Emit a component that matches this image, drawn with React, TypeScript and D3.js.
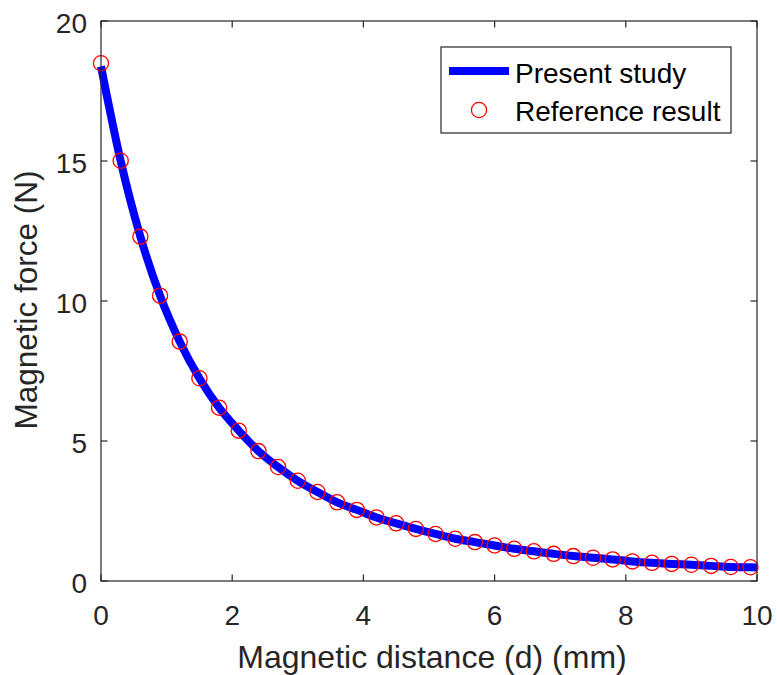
import React from "react";
import * as d3 from "d3";

const refDistance = [0, 0.3, 0.6, 0.9, 1.2, 1.5, 1.8, 2.1, 2.4, 2.7, 3.0, 3.3, 3.6, 3.9, 4.2, 4.5, 4.8, 5.1, 5.4, 5.7, 6.0, 6.3, 6.6, 6.9, 7.2, 7.5, 7.8, 8.1, 8.4, 8.7, 9.0, 9.3, 9.6, 9.9];
const refForce = [18.49, 15.01, 12.3, 10.19, 8.55, 7.24, 6.19, 5.37, 4.64, 4.07, 3.58, 3.18, 2.81, 2.54, 2.27, 2.06, 1.86, 1.68, 1.51, 1.39, 1.27, 1.15, 1.06, 0.97, 0.89, 0.83, 0.77, 0.7, 0.65, 0.61, 0.58, 0.54, 0.5, 0.49];

const studyDistance = [0, 0.3, 0.6, 0.9, 1.2, 1.5, 1.8, 2.1, 2.4, 2.7, 3.0, 3.3, 3.6, 3.9, 4.2, 4.5, 4.8, 5.1, 5.4, 5.7, 6.0, 6.3, 6.6, 6.9, 7.2, 7.5, 7.8, 8.1, 8.4, 8.7, 9.0, 9.3, 9.6, 9.9, 10];
const studyForce = [18.38, 15.0, 12.3, 10.19, 8.55, 7.24, 6.19, 5.37, 4.64, 4.07, 3.58, 3.18, 2.81, 2.54, 2.27, 2.06, 1.86, 1.68, 1.51, 1.39, 1.27, 1.15, 1.06, 0.97, 0.89, 0.83, 0.77, 0.7, 0.65, 0.61, 0.58, 0.54, 0.5, 0.49, 0.48];

const xTicks = [0, 2, 4, 6, 8, 10];
const yTicks = [0, 5, 10, 15, 20];

const xTitle = "Magnetic distance (d) (mm)";
const yTitle = "Magnetic force (N)";
const legendLabels = ["Present study", "Reference result"];

export default function App() {
  const W = 777, H = 675;
  const L = 101, R = 757, T = 21, B = 581;
  const x = d3.scaleLinear().domain([0, 10]).range([L, R]);
  const y = d3.scaleLinear().domain([0, 20]).range([B, T]);
  const font = "'Liberation Sans', Arial, Helvetica, sans-serif";
  const axisColor = "#262626";
  const tickLen = 6.5;

  const line = d3
    .line<number>()
    .x((_, i) => x(studyDistance[i]))
    .y((d) => y(d))
    .curve(d3.curveMonotoneX);

  return (
    <svg
      width={W}
      height={H}
      style={{ position: "absolute", left: 0, top: 0, background: "#fff" }}
      fontFamily={font}
    >
      <rect x={0} y={0} width={W} height={H} fill="#fff" />
      {/* data */}
      <path d={line(studyForce) || ""} fill="none" stroke="#0000ff" strokeWidth={8} />
      {refForce.map((v, i) => (
        <circle key={i} cx={x(refDistance[i])} cy={y(v)} r={7.6} fill="none" stroke="#ff0000" strokeWidth={1.3} />
      ))}
      {/* box */}
      <rect x={L} y={T} width={R - L} height={B - T} fill="none" stroke={axisColor} strokeWidth={1.2} />
      {/* ticks */}
      {xTicks.map((t) => (
        <g key={"x" + t}>
          <line x1={x(t)} x2={x(t)} y1={B} y2={B - tickLen} stroke={axisColor} strokeWidth={1.2} />
          <line x1={x(t)} x2={x(t)} y1={T} y2={T + tickLen} stroke={axisColor} strokeWidth={1.2} />
          <text x={x(t)} y={625} fontSize={28} textAnchor="middle" fill={axisColor}>
            {t}
          </text>
        </g>
      ))}
      {yTicks.map((t) => (
        <g key={"y" + t}>
          <line x1={L} x2={L + tickLen} y1={y(t)} y2={y(t)} stroke={axisColor} strokeWidth={1.2} />
          <line x1={R} x2={R - tickLen} y1={y(t)} y2={y(t)} stroke={axisColor} strokeWidth={1.2} />
          <text x={87} y={y(t) + 11.5} fontSize={28} textAnchor="end" fill={axisColor}>
            {t}
          </text>
        </g>
      ))}
      {/* axis titles */}
      <text x={(L + R) / 2 + 3} y={668} fontSize={32} textAnchor="middle" fill={axisColor}>
        {xTitle}
      </text>
      <text
        transform={`translate(37, ${(T + B) / 2 - 1}) rotate(-90)`}
        fontSize={31.5}
        textAnchor="middle"
        fill={axisColor}
      >
        {yTitle}
      </text>
      {/* legend */}
      <rect x={441} y={47} width={290} height={86} fill="#fff" stroke={axisColor} strokeWidth={1.2} />
      <line x1={449} x2={509} y1={71} y2={71} stroke="#0000ff" strokeWidth={8} />
      <text x={515} y={82.5} fontSize={28} fill="#000">
        {legendLabels[0]}
      </text>
      <circle cx={479} cy={110} r={7.6} fill="none" stroke="#ff0000" strokeWidth={1.3} />
      <text x={515} y={120.5} fontSize={28} fill="#000">
        {legendLabels[1]}
      </text>
    </svg>
  );
}
